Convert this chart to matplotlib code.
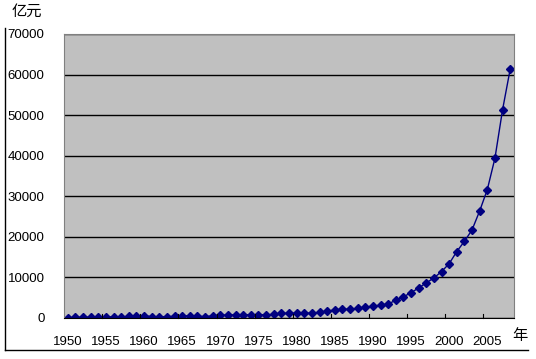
import matplotlib
matplotlib.use('Agg')
import matplotlib.pyplot as plt
from matplotlib.lines import Line2D
import numpy as np

# yearly values, 亿元
years = list(range(1950, 2009))
values = [62, 125, 174, 213, 245, 250, 280, 304, 379, 487,
          572, 357, 313, 342, 400, 474, 558, 420, 362, 527,
          663, 744, 767, 809, 783, 816, 776, 874, 1132, 1146,
          1160, 1176, 1212, 1367, 1643, 2005, 2122, 2199, 2357, 2665,
          2937, 3149, 3483, 4349, 5218, 6242, 7408, 8651, 9876, 11444,
          13395, 16386, 18904, 21715, 26396, 31649, 39373, 51322, 61330]
y_ticks = [0, 10000, 20000, 30000, 40000, 50000, 60000, 70000]
x_labels = list(range(1950, 2006, 5))

plt.rcParams['font.family'] = ['Liberation Sans', 'Noto Sans CJK SC', 'DejaVu Sans']

fig = plt.figure(figsize=(5.36, 3.59), dpi=100)
ax = fig.add_axes([64 / 536, 41 / 359, 450 / 536, 284 / 359])
ax.set_facecolor('#c0c0c0')

ax.plot(years, values, color='#000080', lw=1, marker='D', ms=3.8,
        markerfacecolor='#000080', markeredgecolor='#000080')

ax.set_xlim(1949.5, 2008.5)
ax.set_ylim(0, 70000)
ax.set_yticks(y_ticks)
ax.set_yticklabels([str(v) for v in y_ticks], fontsize=9.5)
ax.yaxis.grid(True, color='black', lw=1)
ax.set_axisbelow(True)

# labels on the points, tick marks between categories
ax.set_xticks(x_labels)
ax.set_xticklabels([str(v) for v in x_labels], fontsize=9.5)
ax.tick_params(axis='x', length=0, pad=13)
ax.tick_params(axis='y', length=0, pad=14)
for x in np.arange(1954.5, 2008, 5):
    ax.plot([x, x], [0, 900], color='black', lw=0.8, clip_on=False)

for side in ['left', 'top', 'right']:
    ax.spines[side].set_color('#808080')
ax.spines['bottom'].set_color('black')

fig.text(12 / 536, 1 - 12 / 359, '亿元', fontsize=11, va='center', ha='left')
fig.text(512 / 536, 1 - 336 / 359, '年', fontsize=11, va='center', ha='left')

# outer frame lines
fig.add_artist(Line2D([5 / 536, 5 / 536], [1 - 28 / 359, 1 - 350 / 359],
                      color='black', lw=1))
fig.add_artist(Line2D([5 / 536, 528 / 536], [1 - 350 / 359, 1 - 350 / 359],
                      color='black', lw=1))

fig.savefig('out.png', dpi=100)
